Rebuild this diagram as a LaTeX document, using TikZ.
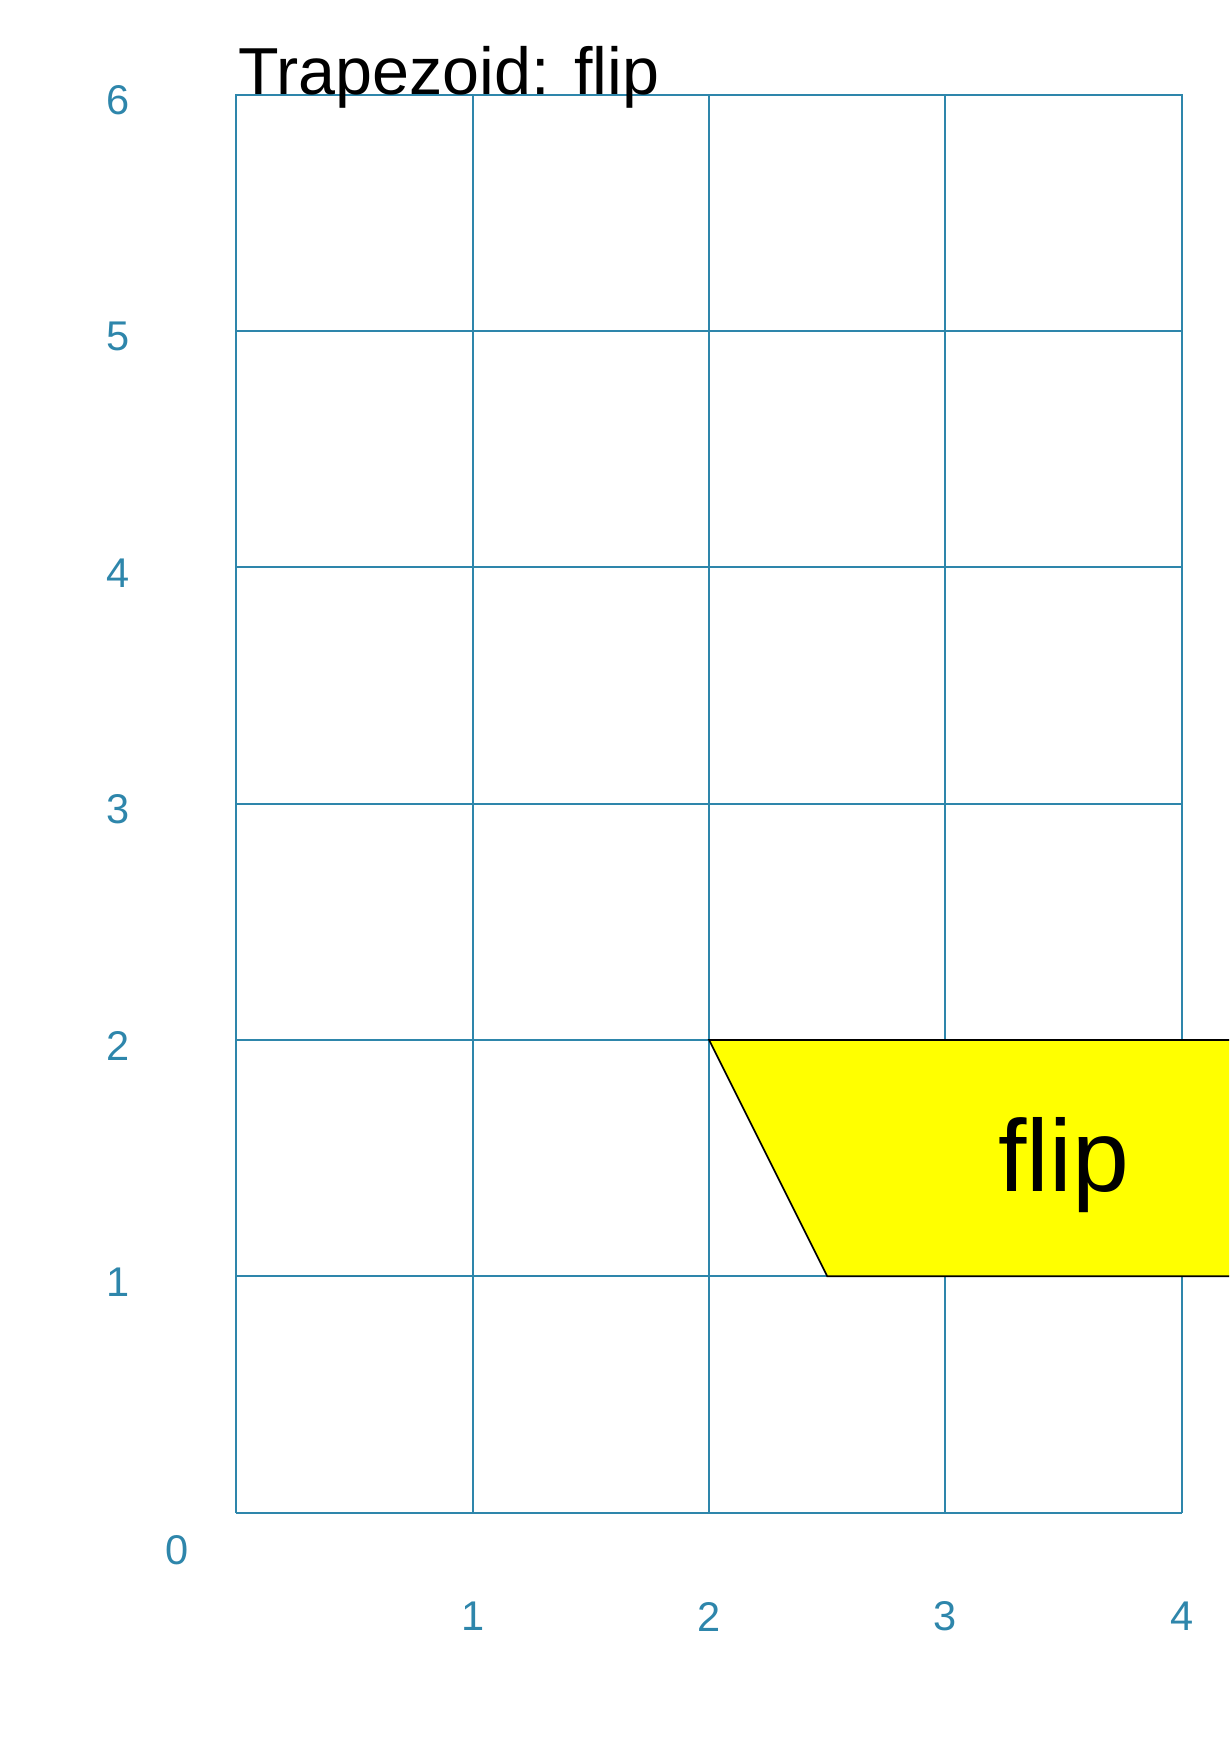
\documentclass[tikz,border=0pt]{standalone}
\usepackage{fontspec}
\setmainfont{Liberation Sans}
\usepackage{xcolor}
\definecolor{gridblue}{RGB}{46,134,171}
\definecolor{flipyellow}{RGB}{255,255,0}

\begin{document}
\begin{tikzpicture}[x=1cm,y=1cm,
        gridline/.style={gridblue,line width=0.25pt},
        ticklabel/.style={gridblue,font=\fontsize{5}{6}\selectfont,inner sep=0pt}]
        \clip (-1,-1) rectangle (4.2,6.4);

        % Grid
        \draw[gridline] (0,0) grid (4,6);

        % Flipped trapezoid
        \coordinate (t1) at (2.0,2.0); % top left
        \coordinate (t2) at (5.0,2.0); % top right
        \coordinate (t3) at (4.5,1.0); % bottom right
        \coordinate (t4) at (2.5,1.0); % bottom left
        \filldraw[fill=flipyellow,draw=black,line width=0.2pt] (t1) -- (t2) -- (t3) -- (t4) -- cycle;
        \node[font=\fontsize{12.3}{14.8}\selectfont,anchor=base,inner sep=0pt] (flip) at (3.5,1.36) {flip};

        % Title
        \node[font=\fontsize{8}{9.6}\selectfont,anchor=base west,inner sep=0pt] (title) at (0,6) {Trapezoid: flip};

        % Labels
        \node[ticklabel] (y0) at (-0.25,-0.16) {0};
        \node[ticklabel] (y1) at (-0.5,0.975) {1};
        \node[ticklabel] (y2) at (-0.5,1.975) {2};
        \node[ticklabel] (y3) at (-0.5,2.975) {3};
        \node[ticklabel] (y4) at (-0.5,3.975) {4};
        \node[ticklabel] (y5) at (-0.5,4.975) {5};
        \node[ticklabel] (y6) at (-0.5,5.975) {6};
        \node[ticklabel] (x1) at (1,-0.44) {1};
        \node[ticklabel] (x2) at (2,-0.44) {2};
        \node[ticklabel] (x3) at (3,-0.44) {3};
        \node[ticklabel] (x4) at (4,-0.44) {4};
    \end{tikzpicture}
\end{document}
